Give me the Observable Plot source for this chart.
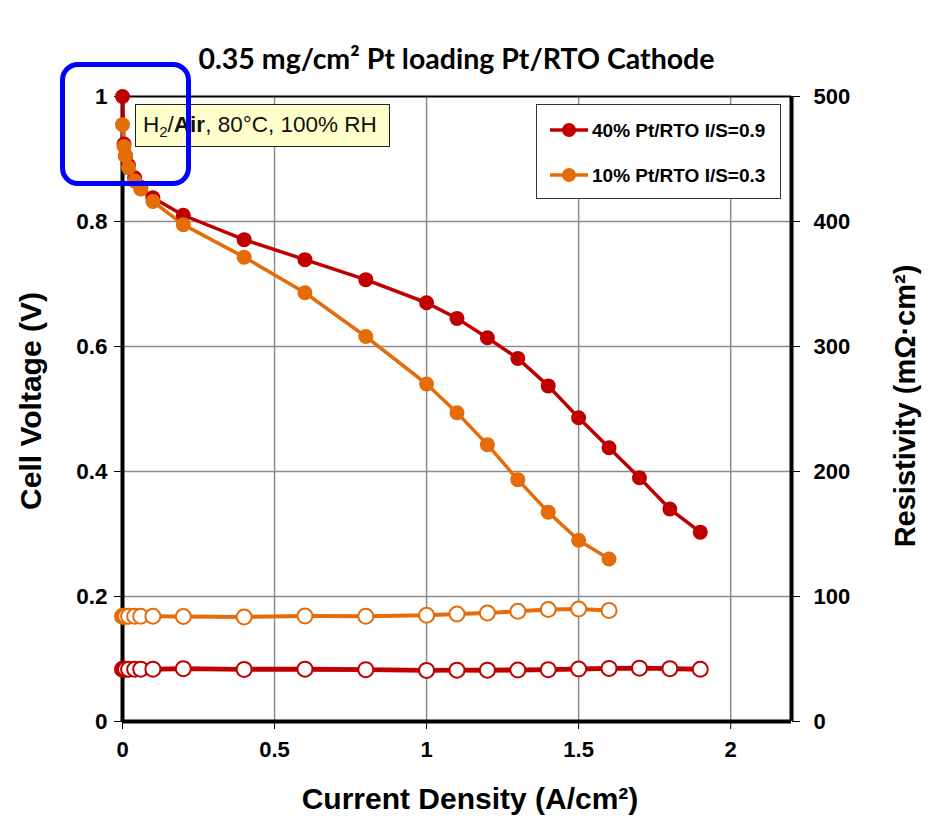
<!DOCTYPE html>
<html>
<head>
<meta charset="utf-8">
<script src="https://cdn.jsdelivr.net/npm/d3@7"></script>
<script src="https://cdn.jsdelivr.net/npm/@observablehq/plot@0.6"></script>
<style>
  html, body { margin: 0; padding: 0; background: #fff; }
  #wrap { position: relative; width: 933px; height: 829px; font-family: "Liberation Sans", Arial, sans-serif; }
  #wrap svg { position: absolute; left: 0; top: 0; }
  .ov { position: absolute; box-sizing: border-box; }
  #title { left: 0; width: 913px; top: 40px; text-align: center; font-family: Lato, "Open Sans", sans-serif; font-weight: 700; font-size: 28.5px; line-height: 36px; color: #000; }
  #cond { left: 135px; top: 104px; width: 255px; height: 43px; background: #FFFFCC; border: 1.5px solid #222; font-size: 22.5px; line-height: 40px; padding-left: 7px; color: #111; white-space: nowrap; }
  #cond sub { font-size: 15px; vertical-align: -5px; line-height: 0; }
  #legend { left: 536px; top: 104px; width: 245px; height: 95px; background: #fff; border: 1.5px solid #333; }
  #blue { left: 60px; top: 62px; width: 131px; height: 124px; border: 5px solid #0000FF; border-radius: 18px; }
</style>
</head>
<body>
<div id="wrap"></div>
<script>
// Current density (A/cm2)
const currentRed = [0, 0.005, 0.01, 0.02, 0.04, 0.06, 0.1, 0.2, 0.4, 0.6, 0.8, 1.0, 1.1, 1.2, 1.3, 1.4, 1.5, 1.6, 1.7, 1.8, 1.9];
const currentOrange = [0, 0.005, 0.01, 0.02, 0.04, 0.06, 0.1, 0.2, 0.4, 0.6, 0.8, 1.0, 1.1, 1.2, 1.3, 1.4, 1.5, 1.6];
// Cell voltage (V)
const voltageRed = [1.0, 0.924, 0.905, 0.89, 0.87, 0.855, 0.838, 0.810, 0.771, 0.739, 0.707, 0.670, 0.645, 0.614, 0.581, 0.537, 0.486, 0.438, 0.390, 0.340, 0.303];
const voltageOrange = [0.955, 0.92, 0.905, 0.886, 0.865, 0.852, 0.832, 0.795, 0.743, 0.686, 0.616, 0.540, 0.494, 0.443, 0.387, 0.335, 0.290, 0.260];
// Resistivity (mOhm cm2)
const resRed = [41.8, 41.8, 41.8, 41.8, 41.8, 41.9, 41.9, 42.3, 41.7, 41.9, 41.5, 40.9, 41.1, 41.1, 41.2, 41.5, 42.0, 42.5, 42.7, 42.3, 41.8];
const resOrange = [84.2, 84.2, 84.2, 84.2, 84.2, 84.2, 84.2, 84.0, 83.6, 84.4, 84.2, 85.0, 86.0, 86.8, 88.2, 89.6, 90.0, 88.8];

const seriesNames = ["40% Pt/RTO I/S=0.9", "10% Pt/RTO I/S=0.3"];
const seriesColors = ["#C00000", "#E46C0A"];
const resLineWidths = [5, 4];
const xTicks = [0, 0.5, 1, 1.5, 2];
const yTicks = [0, 0.2, 0.4, 0.6, 0.8, 1];
const resTicks = [0, 100, 200, 300, 400, 500];
const resMax = 500;

const title = "0.35 mg/cm² Pt loading Pt/RTO Cathode";
const xLabel = "Current Density (A/cm²)";
const yLabel = "Cell Voltage (V)";
const y2Label = "Resistivity (mΩ·cm²)";

const pol = [
  ...currentRed.map((x, i) => ({x, v: voltageRed[i], s: seriesNames[0]})),
  ...currentOrange.map((x, i) => ({x, v: voltageOrange[i], s: seriesNames[1]}))
];
const resR = currentRed.map((x, i) => ({x, r: resRed[i], s: seriesNames[0]}));
const resO = currentOrange.map((x, i) => ({x, r: resOrange[i], s: seriesNames[1]}));

const font = "Liberation Sans, Arial, sans-serif";
const plot = Plot.plot({
  width: 933,
  height: 829,
  marginLeft: 122,
  marginRight: 142,
  marginTop: 96,
  marginBottom: 108,
  style: {fontFamily: font, background: "transparent", overflow: "visible"},
  x: {domain: [0, 2.2]},
  y: {domain: [0, 1]},
  color: {domain: seriesNames, range: seriesColors},
  marks: [
    Plot.ruleX(xTicks.filter(d => d > 0), {stroke: "#8c8c8c", strokeWidth: 1.5}),
    Plot.ruleY(yTicks.filter(d => d > 0 && d < 1), {stroke: "#8c8c8c", strokeWidth: 1.5}),
    Plot.ruleY([1], {stroke: "#000", strokeWidth: 2}),
    Plot.ruleX([2.2], {stroke: "#000", strokeWidth: 4}),
    Plot.axisX({ticks: xTicks, tickSize: 8, tickPadding: 12, tickFormat: d => String(d), fontSize: 22, fontWeight: "bold", label: null, stroke: "#000"}),
    Plot.axisY({ticks: yTicks, tickSize: 8, tickPadding: 7, tickFormat: d => String(d), fontSize: 22.5, fontWeight: "bold", label: null}),
    Plot.axisY({anchor: "right", ticks: resTicks.map(d => d / resMax), tickSize: 8, tickPadding: 14, tickFormat: d => String(Math.round(d * resMax)), fontSize: 22, fontWeight: "bold", label: null, textAnchor: "start"}),
    Plot.ruleX([0], {stroke: "#000", strokeWidth: 4}),
    Plot.ruleY([0], {stroke: "#000", strokeWidth: 4}),
    // resistivity
    Plot.line(resR, {x: "x", y: d => d.r / resMax, stroke: "s", strokeWidth: resLineWidths[0]}),
    Plot.line(resO, {x: "x", y: d => d.r / resMax, stroke: "s", strokeWidth: resLineWidths[1]}),
    Plot.dot([...resR, ...resO], {x: "x", y: d => d.r / resMax, stroke: "s", fill: "white", r: 7.5, strokeWidth: 2}),
    // polarization
    Plot.line(pol, {x: "x", y: "v", z: "s", stroke: "s", strokeWidth: 3.5}),
    Plot.dot(pol, {x: "x", y: "v", fill: "s", r: 7.5}),
    // axis titles
    Plot.text([xLabel], {text: d => d, frameAnchor: "bottom", textAnchor: "middle", dx: 13, dy: 87, fontSize: 30, fontWeight: "bold", fill: "#000"}),
    Plot.text([yLabel], {text: d => d, frameAnchor: "left", textAnchor: "middle", dx: -91, dy: -8, rotate: -90, fontSize: 30, fontWeight: "bold", fill: "#000"}),
    Plot.text([y2Label], {text: d => d, frameAnchor: "right", textAnchor: "middle", dx: 114, dy: -3, rotate: -90, fontSize: 29, fontWeight: "bold", fill: "#000"})
  ]
});

const wrap = document.getElementById("wrap");
wrap.appendChild(plot);

const t = document.createElement("div");
t.className = "ov"; t.id = "title"; t.textContent = title;
wrap.appendChild(t);

const cond = document.createElement("div");
cond.className = "ov"; cond.id = "cond";
cond.innerHTML = "H<sub>2</sub>/<b>Air</b>, 80°C, 100% RH";
wrap.appendChild(cond);

// legend
const leg = document.createElement("div");
leg.className = "ov"; leg.id = "legend";
const ns = "http://www.w3.org/2000/svg";
const ls = document.createElementNS(ns, "svg");
ls.setAttribute("width", 242); ls.setAttribute("height", 92);
ls.style.position = "absolute"; ls.style.left = "0"; ls.style.top = "0";
seriesNames.forEach((name, i) => {
  const cy = 25 + i * 45;
  const ln = document.createElementNS(ns, "line");
  ln.setAttribute("x1", 13); ln.setAttribute("x2", 51); ln.setAttribute("y1", cy); ln.setAttribute("y2", cy);
  ln.setAttribute("stroke", seriesColors[i]); ln.setAttribute("stroke-width", 3.5);
  ls.appendChild(ln);
  const c = document.createElementNS(ns, "circle");
  c.setAttribute("cx", 32); c.setAttribute("cy", cy); c.setAttribute("r", 7);
  c.setAttribute("fill", seriesColors[i]);
  ls.appendChild(c);
  const tx = document.createElementNS(ns, "text");
  tx.setAttribute("x", 55); tx.setAttribute("y", cy); tx.setAttribute("dy", "0.36em");
  tx.setAttribute("font-family", font); tx.setAttribute("font-weight", "bold"); tx.setAttribute("font-size", 19);
  tx.textContent = name;
  ls.appendChild(tx);
});
leg.appendChild(ls);
wrap.appendChild(leg);

const blue = document.createElement("div");
blue.className = "ov"; blue.id = "blue";
wrap.appendChild(blue);
</script>
</body>
</html>
